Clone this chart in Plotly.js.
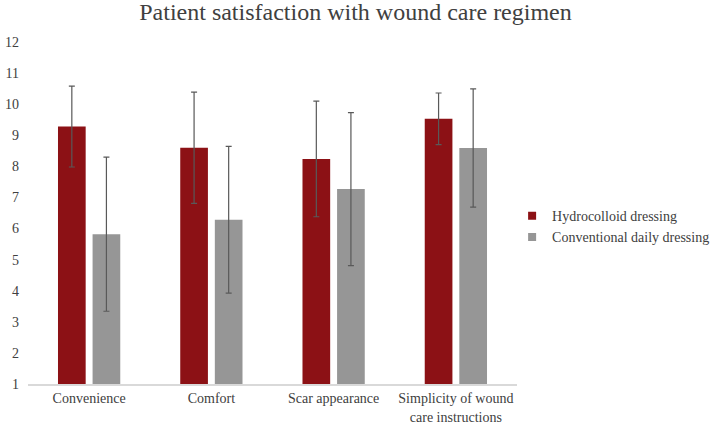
<!DOCTYPE html>
<html>
<head>
<meta charset="utf-8">
<script src="https://cdn.plot.ly/plotly-3.0.1.min.js"></script>
<style>html,body{margin:0;padding:0;background:#fff;}#chart{width:711px;height:424px;}</style>
</head>
<body>
<div id="chart"></div>
<script>
const categories = ["Convenience", "Comfort", "Scar appearance", "Simplicity of wound<br>care instructions"];
const hydroValues = [9.28, 8.60, 8.24, 9.53];
const hydroErrors = [1.30, 1.79, 1.86, 0.83];
const convValues = [5.82, 6.28, 7.27, 8.59];
const convErrors = [2.48, 2.36, 2.46, 1.90];
const seriesNames = ["Hydrocolloid dressing", "Conventional daily dressing"];
const seriesColors = ["#8C1115", "#969696"];
const yTicks = [1,2,3,4,5,6,7,8,9,10,11,12];

const font = {family: "Liberation Serif", color: "#404040"};
const errStyle = {type: "data", visible: true, color: "#595959", thickness: 1.2, width: 3};

const traces = [
  {type: "bar", name: seriesNames[0], x: categories, y: hydroValues, showlegend: false,
   marker: {color: seriesColors[0]},
   error_y: Object.assign({array: hydroErrors}, errStyle)},
  {type: "bar", name: seriesNames[1], x: categories, y: convValues, showlegend: false,
   marker: {color: seriesColors[1]},
   error_y: Object.assign({array: convErrors}, errStyle)},
  {type: "scatter", mode: "markers", name: seriesNames[0], x: [null], y: [null],
   marker: {symbol: "square", size: 8, color: seriesColors[0]}},
  {type: "scatter", mode: "markers", name: seriesNames[1], x: [null], y: [null],
   marker: {symbol: "square", size: 8, color: seriesColors[1]}}
];

const layout = {
  width: 711, height: 424,
  margin: {l: 28, r: 194, t: 42, b: 40, pad: 0, autoexpand: false},
  paper_bgcolor: "#fff", plot_bgcolor: "#fff",
  font: Object.assign({size: 14}, font),
  title: {text: "Patient satisfaction with wound care regimen", x: 0.5, xref: "container", xanchor: "center",
          y: 0.972, yanchor: "middle", font: Object.assign({size: 24}, font)},
  barmode: "group", bargap: 0.434, bargroupgap: 0.2,
  xaxis: {type: "category", showline: true, linecolor: "#d9d9d9", linewidth: 1.5, ticks: "", showgrid: false,
          tickfont: Object.assign({size: 14}, font), automargin: false, ticklabelstandoff: 1},
  yaxis: {range: [1, 12], tickvals: yTicks, showgrid: false, zeroline: false, showline: false,
          ticks: "", tickfont: Object.assign({size: 14}, font), automargin: false, ticklabelstandoff: 8},
  showlegend: true,
  legend: {x: 0.99, xanchor: "left", y: 0.46, yanchor: "middle", font: Object.assign({size: 14}, font),
           itemwidth: 30, tracegroupgap: 6, bgcolor: "rgba(0,0,0,0)"}
};

Plotly.newPlot("chart", traces, layout, {staticPlot: true, displayModeBar: false});
</script>
</body>
</html>
